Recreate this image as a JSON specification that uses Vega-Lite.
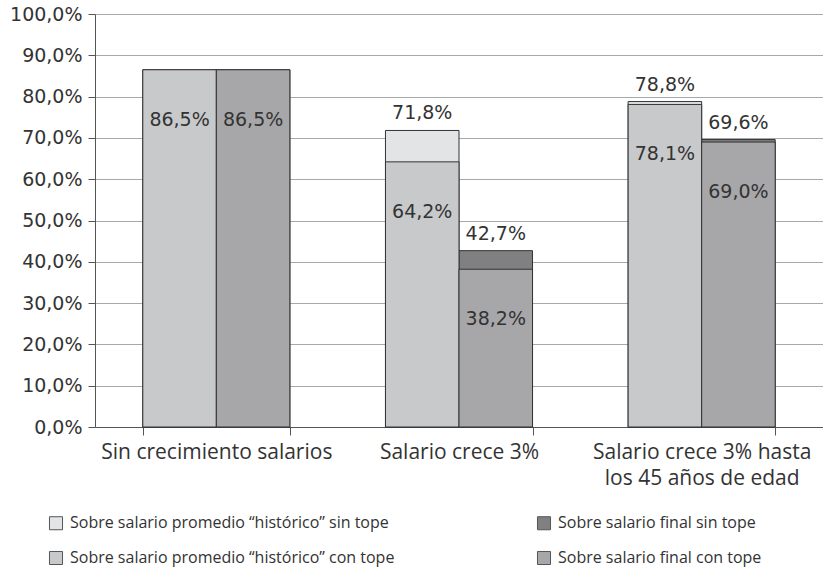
{
  "$schema": "https://vega.github.io/schema/vega-lite/v6.json",
  "width": 728,
  "height": 413,
  "autosize": {"type": "none"},
  "padding": {"left": 95, "top": 14, "right": 0, "bottom": 144},
  "config": {
    "locale": {"number": {"decimal": ",", "thousands": ".", "grouping": [3], "currency": ["", "€"]}},
    "view": {"stroke": null},
    "font": "Open Sans",
    "text": {"font": "DejaVu Sans"}
  },
  "data": {
    "values": [
      {"cat": "Sin crecimiento salarios", "grupo": "histórico", "tipo": "sin", "serie": "Sobre salario promedio “histórico” sin tope", "value": 0.865},
      {"cat": "Sin crecimiento salarios", "grupo": "final", "tipo": "sin", "serie": "Sobre salario final sin tope", "value": 0.865},
      {"cat": "Salario crece 3%", "grupo": "histórico", "tipo": "sin", "serie": "Sobre salario promedio “histórico” sin tope", "value": 0.718},
      {"cat": "Salario crece 3%", "grupo": "final", "tipo": "sin", "serie": "Sobre salario final sin tope", "value": 0.427},
      {"cat": "Salario crece 3% hasta los 45 años de edad", "grupo": "histórico", "tipo": "sin", "serie": "Sobre salario promedio “histórico” sin tope", "value": 0.788},
      {"cat": "Salario crece 3% hasta los 45 años de edad", "grupo": "final", "tipo": "sin", "serie": "Sobre salario final sin tope", "value": 0.696},
      {"cat": "Sin crecimiento salarios", "grupo": "histórico", "tipo": "con", "serie": "Sobre salario promedio “histórico” con tope", "value": 0.865},
      {"cat": "Sin crecimiento salarios", "grupo": "final", "tipo": "con", "serie": "Sobre salario final con tope", "value": 0.865},
      {"cat": "Salario crece 3%", "grupo": "histórico", "tipo": "con", "serie": "Sobre salario promedio “histórico” con tope", "value": 0.642},
      {"cat": "Salario crece 3%", "grupo": "final", "tipo": "con", "serie": "Sobre salario final con tope", "value": 0.382},
      {"cat": "Salario crece 3% hasta los 45 años de edad", "grupo": "histórico", "tipo": "con", "serie": "Sobre salario promedio “histórico” con tope", "value": 0.781},
      {"cat": "Salario crece 3% hasta los 45 años de edad", "grupo": "final", "tipo": "con", "serie": "Sobre salario final con tope", "value": 0.69}
    ]
  },
  "encoding": {
    "x": {
      "field": "cat",
      "type": "nominal",
      "sort": ["Sin crecimiento salarios", "Salario crece 3%", "Salario crece 3% hasta los 45 años de edad"],
      "scale": {"paddingInner": 0.394, "paddingOuter": 0.197},
      "axis": {
        "title": null,
        "labelAngle": 0,
        "labelFont": "Open Sans",
        "labelFontSize": 21,
        "labelColor": "#333333",
        "labelPadding": 6,
        "labelLineHeight": 26,
        "labelLimit": 400,
        "labelExpr": "datum.label === 'Salario crece 3% hasta los 45 años de edad' ? ['Salario crece 3% hasta', 'los 45 años de edad'] : datum.label",
        "tickBand": "extent",
        "tickSize": 8,
        "tickColor": "#555555",
        "domainColor": "#555555",
        "grid": false
      }
    },
    "xOffset": {
      "field": "grupo",
      "type": "nominal",
      "sort": ["histórico", "final"],
      "scale": {"paddingInner": 0, "paddingOuter": 0}
    },
    "y": {
      "field": "value",
      "type": "quantitative",
      "stack": null,
      "scale": {"domain": [0, 1]},
      "axis": {
        "title": null,
        "values": [0, 0.1, 0.2, 0.3, 0.4, 0.5, 0.6, 0.7, 0.8, 0.9, 1],
        "format": ".1%",
        "labelFont": "DejaVu Sans",
        "labelFontSize": 19,
        "labelColor": "#333333",
        "labelPadding": 6,
        "tickSize": 7,
        "tickColor": "#555555",
        "domainColor": "#555555",
        "grid": true,
        "gridColor": "#a8a8a8"
      }
    }
  },
  "layer": [
    {
      "mark": {"type": "bar", "stroke": "#333333", "strokeWidth": 1},
      "encoding": {
        "color": {
          "field": "serie",
          "type": "nominal",
          "scale": {
            "domain": ["Sobre salario promedio “histórico” sin tope", "Sobre salario promedio “histórico” con tope", "Sobre salario final sin tope", "Sobre salario final con tope"],
            "range": ["#e3e4e5", "#c8c9cb", "#808083", "#a7a7aa"]
          },
          "legend": {
            "title": null,
            "orient": "none",
            "legendX": -47,
            "legendY": 501,
            "columns": 2,
            "columnPadding": 140,
            "rowPadding": 17,
            "symbolType": "square",
            "symbolSize": 170,
            "symbolStrokeColor": "#555555",
            "symbolStrokeWidth": 1,
            "labelFont": "Open Sans",
            "labelFontSize": 16,
            "labelColor": "#333333",
            "labelLimit": 500,
            "labelOffset": 6
          }
        }
      }
    },
    {
      "transform": [{"filter": "datum.tipo === 'con'"}],
      "mark": {"type": "text", "dy": 50, "fontSize": 19, "font": "DejaVu Sans", "color": "#333333"},
      "encoding": {"text": {"field": "value", "type": "quantitative", "format": ".1%"}}
    },
    {
      "transform": [{"filter": "datum.tipo === 'sin' && datum.cat !== 'Sin crecimiento salarios'"}],
      "mark": {"type": "text", "dy": -17, "fontSize": 19, "font": "DejaVu Sans", "color": "#333333"},
      "encoding": {"text": {"field": "value", "type": "quantitative", "format": ".1%"}}
    }
  ]
}
